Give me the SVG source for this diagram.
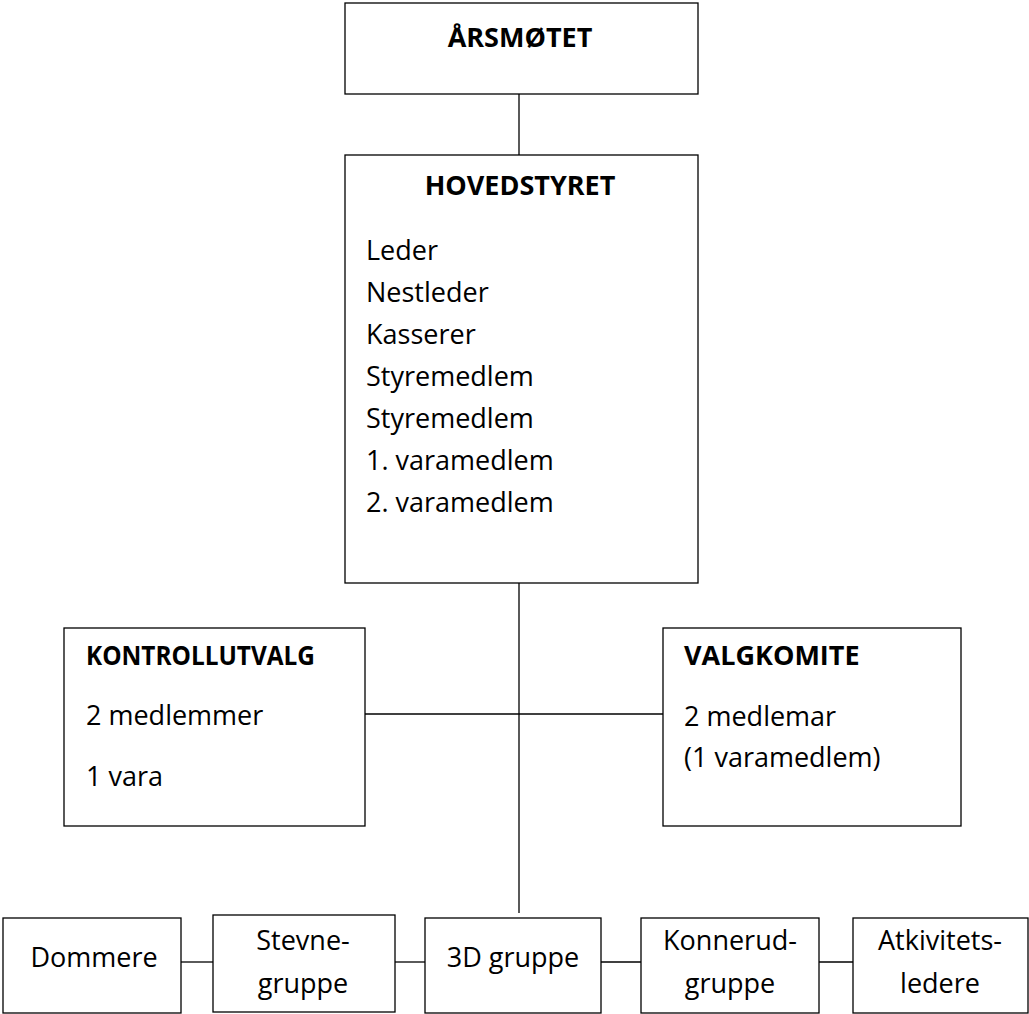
<svg xmlns="http://www.w3.org/2000/svg" width="1029" height="1014" viewBox="0 0 1029 1014">
<style>
.box{fill:#fff;stroke:#000;stroke-width:1.3}
.ln{stroke:#000;stroke-width:1.3;fill:none}
text{font-family:"Open Sans","Noto Sans","Liberation Sans",sans-serif;font-size:27px;fill:#000}
.b{font-weight:bold}
.c{text-anchor:middle}
</style>
<rect width="1029" height="1014" fill="#fff"/>
<g id="connectors">
<line class="ln" x1="519" y1="94" x2="519" y2="155"/>
<line class="ln" x1="519" y1="583" x2="519" y2="913"/>
<line class="ln" x1="365" y1="714" x2="663" y2="714"/>
<line class="ln" x1="181" y1="962" x2="213" y2="962"/>
<line class="ln" x1="395" y1="962" x2="425" y2="962"/>
<line class="ln" x1="601" y1="962" x2="641" y2="962"/>
<line class="ln" x1="819" y1="962" x2="853" y2="962"/>
</g>
<g id="arsmotet">
<rect class="box" x="345" y="3" width="353" height="91"/>
<text class="b c" x="520" y="47">ÅRSMØTET</text>
</g>
<g id="hovedstyret">
<rect class="box" x="345" y="155" width="353" height="428"/>
<text class="b c" x="520" y="195">HOVEDSTYRET</text>
<text x="366" y="260">Leder</text>
<text x="366" y="302">Nestleder</text>
<text x="366" y="344">Kasserer</text>
<text x="366" y="386">Styremedlem</text>
<text x="366" y="428">Styremedlem</text>
<text x="366" y="470">1. varamedlem</text>
<text x="366" y="512">2. varamedlem</text>
</g>
<g id="kontrollutvalg">
<rect class="box" x="64" y="628" width="301" height="198"/>
<text class="b" x="86" y="665" textLength="229" lengthAdjust="spacingAndGlyphs">KONTROLLUTVALG</text>
<text x="86" y="725">2 medlemmer</text>
<text x="86" y="786">1 vara</text>
</g>
<g id="valgkomite">
<rect class="box" x="663" y="628" width="298" height="198"/>
<text class="b" x="684" y="665">VALGKOMITE</text>
<text x="684" y="726">2 medlemar</text>
<text x="684" y="767">(1 varamedlem)</text>
</g>
<g id="dommere">
<rect class="box" x="3" y="918" width="178" height="95"/>
<text class="c" x="94" y="967">Dommere</text>
</g>
<g id="stevnegruppe">
<rect class="box" x="213" y="915" width="182" height="97"/>
<text class="c" x="303" y="950">Stevne-</text>
<text class="c" x="303" y="993">gruppe</text>
</g>
<g id="3dgruppe">
<rect class="box" x="425" y="918" width="176" height="95"/>
<text class="c" x="513" y="967">3D gruppe</text>
</g>
<g id="konnerudgruppe">
<rect class="box" x="641" y="918" width="178" height="95"/>
<text class="c" x="730" y="950">Konnerud-</text>
<text class="c" x="730" y="993">gruppe</text>
</g>
<g id="aktivitetsledere">
<rect class="box" x="853" y="918" width="175" height="95"/>
<text class="c" x="940" y="950">Atkivitets-</text>
<text class="c" x="940" y="993">ledere</text>
</g>
</svg>
